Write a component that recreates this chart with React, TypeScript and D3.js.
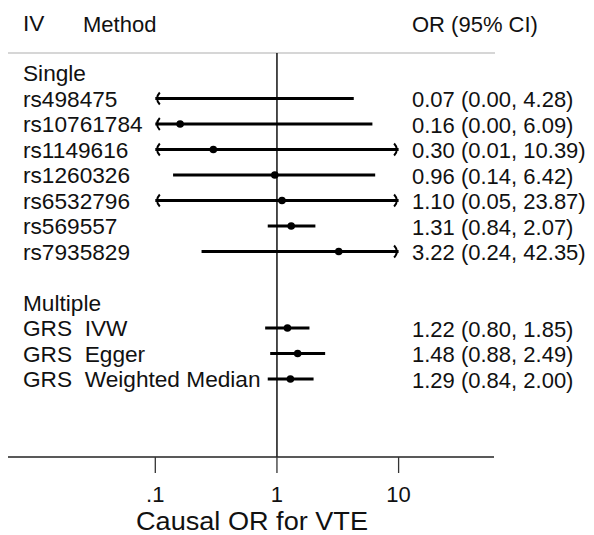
import React from "react";
import * as d3 from "d3";

const singleLabels = ["rs498475", "rs10761784", "rs1149616", "rs1260326", "rs6532796", "rs569557", "rs7935829"];
const singleOR = [0.07, 0.16, 0.30, 0.96, 1.10, 1.31, 3.22];
const singleLo = [0.00, 0.00, 0.01, 0.14, 0.05, 0.84, 0.24];
const singleHi = [4.28, 6.09, 10.39, 6.42, 23.87, 2.07, 42.35];

const multiLabels = ["GRS  IVW", "GRS  Egger", "GRS  Weighted Median"];
const multiOR = [1.22, 1.48, 1.29];
const multiLo = [0.80, 0.88, 0.84];
const multiHi = [1.85, 2.49, 2.00];

const tickValues = [0.1, 1, 10];
const tickLabels = [".1", "1", "10"];

const FONT = "Arial, 'Liberation Sans', sans-serif";

type Row = { kind: "group" | "item" | "blank"; label: string; or?: number; lo?: number; hi?: number };

export default function App() {
  const rows: Row[] = [];
  rows.push({ kind: "group", label: "Single" });
  singleLabels.forEach((l, i) => rows.push({ kind: "item", label: l, or: singleOR[i], lo: singleLo[i], hi: singleHi[i] }));
  rows.push({ kind: "blank", label: "" });
  rows.push({ kind: "group", label: "Multiple" });
  multiLabels.forEach((l, i) => rows.push({ kind: "item", label: l, or: multiOR[i], lo: multiLo[i], hi: multiHi[i] }));

  const x = d3.scaleLog().domain([0.1, 10]).range([155.3, 398.6]);
  const y = d3.scaleLinear().domain([0, rows.length - 1]).range([73, 379]);
  const [dMin, dMax] = x.domain();

  const axisY = 457;
  const axisLeft = 8;
  const axisRight = 494;
  const textX = 412;
  const fs = 22;
  const lblX = 23;
  const sx = 1.03;

  const Label = ({ yy, children }: { yy: number; children: React.ReactNode }) => (
    <text x={lblX / sx} y={yy} fontSize={fs} fill="#111" xmlSpace="preserve" style={{ whiteSpace: "pre" }} transform={`scale(${sx},1)`}>{children}</text>
  );

  return (
    <svg width={594} height={535} style={{ position: "absolute", left: 0, top: 0, background: "#fff" }} fontFamily={FONT}>
      <rect x={0} y={0} width={594} height={535} fill="#fff" />
      {/* header */}
      <Label yy={31.5}>IV</Label>
      <text x={83} y={31.5} fontSize={fs} fill="#111">Method</text>
      <text x={textX} y={31.5} fontSize={fs} fill="#111">OR (95% CI)</text>
      <line x1={8} x2={495} y1={53} y2={53} stroke="#c8c8c8" strokeWidth={1.6} />
      {/* reference line at OR=1 */}
      <line x1={x(1)} x2={x(1)} y1={53} y2={axisY} stroke="#111" strokeWidth={1.5} />
      {/* rows */}
      {rows.map((r, i) => {
        const yy = y(i);
        if (r.kind === "blank") return null;
        if (r.kind === "group") {
          return <Label key={i} yy={yy + 8.5}>{r.label}</Label>;
        }
        const lo = Math.max(r.lo!, dMin);
        const hi = Math.min(r.hi!, dMax);
        const x1 = x(lo);
        const x2 = x(hi);
        const leftArrow = r.lo! < dMin;
        const rightArrow = r.hi! > dMax;
        const showPt = r.or! >= dMin && r.or! <= dMax;
        return (
          <g key={i}>
            <Label yy={yy + 8.5}>{r.label}</Label>
            <line x1={x1} x2={x2} y1={yy} y2={yy} stroke="#000" strokeWidth={2.8} />
            {leftArrow && (
              <path d={`M ${x1 + 4.5},${yy - 6} Q ${x1 - 1},${yy} ${x1 + 4.5},${yy + 6}`} fill="none" stroke="#000" strokeWidth={2} />
            )}
            {rightArrow && (
              <path d={`M ${x2 - 4.5},${yy - 6} Q ${x2 + 1},${yy} ${x2 - 4.5},${yy + 6}`} fill="none" stroke="#000" strokeWidth={2} />
            )}
            {showPt && <circle cx={x(r.or!)} cy={yy} r={3.8} fill="#000" />}
            <text x={textX} y={yy + 8.5} fontSize={fs} fill="#111">
              {`${r.or!.toFixed(2)} (${r.lo!.toFixed(2)}, ${r.hi!.toFixed(2)})`}
            </text>
          </g>
        );
      })}
      {/* x axis */}
      <line x1={axisLeft} x2={axisRight} y1={axisY} y2={axisY} stroke="#222" strokeWidth={1.3} />
      {tickValues.map((t, i) => (
        <g key={t}>
          <line x1={x(t)} x2={x(t)} y1={axisY} y2={axisY + 16} stroke="#333" strokeWidth={1.3} />
          <text x={x(t)} y={502} fontSize={fs} textAnchor="middle" fill="#111">{tickLabels[i]}</text>
        </g>
      ))}
      <text x={252} y={529.5} fontSize={25} textAnchor="middle" fill="#111" textLength={232} lengthAdjust="spacingAndGlyphs">Causal OR for VTE</text>
    </svg>
  );
}
